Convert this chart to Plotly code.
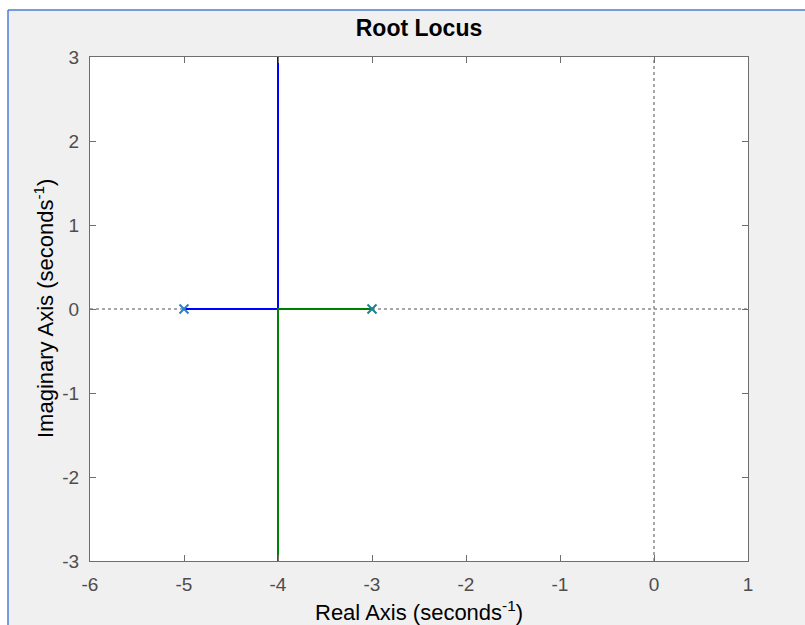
import plotly.graph_objects as go

# ---- data ----
poles_real = [-5, -3]
poles_imag = [0, 0]
pole_colors = ["#2f7fc4", "#1f8090"]

branch1_real = [-5, -4, -4]
branch1_imag = [0, 0, 3]
branch2_real = [-3, -4, -4]
branch2_imag = [0, 0, -3]

x_ticks = [-6, -5, -4, -3, -2, -1, 0, 1]
x_ticklabels = ["-6", "-5", "-4", "-3", "-2", "-1", "0", "1"]
y_ticks = [-3, -2, -1, 0, 1, 2, 3]
y_ticklabels = ["-3", "-2", "-1", "0", "1", "2", "3"]
x_range = [-6, 1]
y_range = [-3, 3]

FONT = "Liberation Sans, Arial, Helvetica, sans-serif"

fig = go.Figure()

# dotted axis lines through origin
fig.add_trace(go.Scatter(x=x_range, y=[0, 0], mode="lines",
                         line=dict(color="#8c8c8c", width=1.5, dash="dot"),
                         hoverinfo="skip", showlegend=False))
fig.add_trace(go.Scatter(x=[0, 0], y=y_range, mode="lines",
                         line=dict(color="#8c8c8c", width=1.5, dash="dot"),
                         hoverinfo="skip", showlegend=False))

# branches
fig.add_trace(go.Scatter(x=branch1_real, y=branch1_imag, mode="lines",
                         line=dict(color="#0000ff", width=2), showlegend=False))
fig.add_trace(go.Scatter(x=branch2_real, y=branch2_imag, mode="lines",
                         line=dict(color="#008000", width=2), showlegend=False))

# poles
fig.add_trace(go.Scatter(x=poles_real, y=poles_imag, mode="markers",
                         marker=dict(symbol="x-thin", size=9,
                                     line=dict(color=pole_colors, width=2)),
                         showlegend=False))

W, H = 805, 625
L, R, T, B = 90, 748, 57, 561
pw, ph = R - L, B - T

def px2x(px):
    return (px - L) / pw

def py2y(py):
    return (B - py) / ph

axis_common = dict(showgrid=False, zeroline=False, showline=True,
                   linecolor="#6e6e6e", linewidth=1.2, mirror="ticks",
                   ticks="inside", ticklen=6, tickwidth=1.2, tickcolor="#6e6e6e",
                   tickfont=dict(family=FONT, size=19, color="#4d4d4d"))

fig.update_xaxes(range=x_range, tickvals=x_ticks, ticktext=x_ticklabels,
                 ticklabelstandoff=6, **axis_common)
fig.update_yaxes(range=y_range, tickvals=y_ticks, ticktext=y_ticklabels,
                 ticklabelstandoff=6, **axis_common)

shapes = [
    # white strips outside the blue frame
    dict(type="rect", xref="paper", yref="paper", x0=px2x(0), x1=px2x(W),
         y0=py2y(10), y1=py2y(0), fillcolor="white", line=dict(width=0), layer="above"),
    dict(type="rect", xref="paper", yref="paper", x0=px2x(0), x1=px2x(8),
         y0=py2y(H), y1=py2y(0), fillcolor="white", line=dict(width=0), layer="above"),
    # blue frame lines
    dict(type="line", xref="paper", yref="paper", x0=px2x(8), x1=px2x(W),
         y0=py2y(10), y1=py2y(10), line=dict(color="#4a7fd6", width=1.5), layer="above"),
    dict(type="line", xref="paper", yref="paper", x0=px2x(8), x1=px2x(8),
         y0=py2y(10), y1=py2y(H), line=dict(color="#4a7fd6", width=1.5), layer="above"),
]

annotations = [
    dict(text="Real Axis (seconds<sup>-1</sup>)", xref="paper", yref="paper",
         x=0.5, y=py2y(611), xanchor="center", yanchor="middle", showarrow=False,
         font=dict(family=FONT, size=22, color="#000000")),
    dict(text="Imaginary Axis (seconds<sup>-1</sup>)", xref="paper", yref="paper",
         x=px2x(44), y=0.5, xanchor="center", yanchor="middle", showarrow=False,
         textangle=-90, font=dict(family=FONT, size=22, color="#000000")),
]

fig.update_layout(
    width=W, height=H,
    margin=dict(l=L, r=W - R, t=T, b=H - B, pad=0),
    paper_bgcolor="#f0f0f0", plot_bgcolor="white",
    title=dict(text="<b>Root Locus</b>", x=(L + R) / 2 / W, xanchor="center",
               y=1 - 28 / H, yanchor="middle",
               font=dict(family=FONT, size=23, color="#000000")),
    shapes=shapes, annotations=annotations, showlegend=False,
)

fig.write_html("out.html")
